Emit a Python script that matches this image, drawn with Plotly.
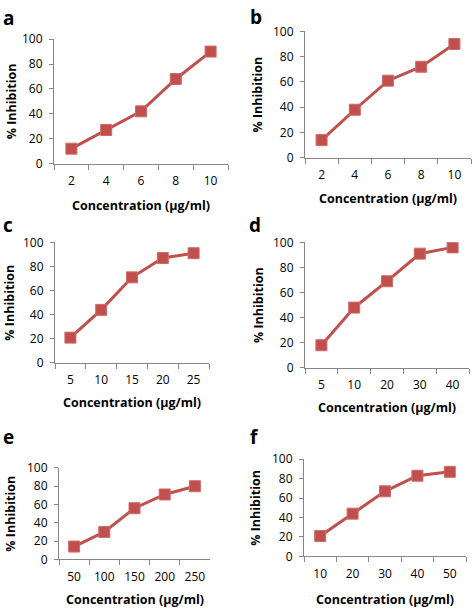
import plotly.graph_objects as go

W, H = 473, 615

# Data
conc_a = ["2", "4", "6", "8", "10"]
inh_a = [12, 27, 42, 68, 90]
conc_b = ["2", "4", "6", "8", "10"]
inh_b = [14, 38, 61, 72, 90]
conc_c = ["5", "10", "15", "20", "25"]
inh_c = [21, 44, 71, 87, 91]
conc_d = ["5", "10", "20", "30", "40"]
inh_d = [18, 48, 69, 91, 96]
conc_e = ["50", "100", "150", "200", "250"]
inh_e = [14, 30, 56, 71, 80]
conc_f = ["10", "20", "30", "40", "50"]
inh_f = [21, 44, 67, 83, 87]

panel_letters = ["a", "b", "c", "d", "e", "f"]
x_title = "Concentration (µg/ml)"
y_title = "% Inhibition"

series = [(conc_a, inh_a), (conc_b, inh_b), (conc_c, inh_c),
          (conc_d, inh_d), (conc_e, inh_e), (conc_f, inh_f)]

boxes = [(54, 228, 31, 159), (305, 471, 23, 153),
         (55, 209, 240, 364), (305, 469, 240, 369),
         (59, 210, 472, 566), (304, 466, 463, 563)]
letter_pos = [(8, 9), (256, 8), (8, 222), (255, 222), (8, 440), (254, 440)]
ytitle_x = [11, 258, 10, 258, 11, 256]
xtitle_y = [202, 195, 405, 410, 607, 607]

RED = "#C0504D"
AXIS = "#868686"
FONT = "Open Sans"

fig = go.Figure()
annotations = []
for i, ((xs, ys), (x0, x1, yt, yb)) in enumerate(zip(series, boxes)):
    n = "" if i == 0 else str(i + 1)
    fig.add_trace(go.Scatter(
        x=xs, y=ys, mode="lines+markers",
        xaxis="x" + n, yaxis="y" + n,
        line=dict(color=RED, width=3),
        marker=dict(symbol="square", size=11, color=RED,
                    line=dict(color="#D06A67", width=1)),
        showlegend=False, hoverinfo="x+y"))
    fig.layout["xaxis" + n] = dict(
        domain=[x0 / W, x1 / W], anchor="y" + n, type="category",
        range=[-0.5, 4.5], tickson="boundaries", ticks="outside",
        ticklen=5, tickcolor=AXIS, showline=True, linecolor=AXIS,
        linewidth=1, showgrid=False, zeroline=False, tickangle=0,
        ticklabelstandoff=6,
        tickfont=dict(family=FONT, size=12, color="black"), fixedrange=True)
    fig.layout["yaxis" + n] = dict(
        domain=[1 - yb / H, 1 - yt / H], anchor="x" + n,
        range=[0, 100], dtick=20, ticks="outside", ticklen=4,
        tickcolor=AXIS, showline=True, linecolor=AXIS, linewidth=1,
        showgrid=False, zeroline=False, ticklabelstandoff=4,
        tickfont=dict(family=FONT, size=12, color="black"), fixedrange=True)
    lx, ly = letter_pos[i]
    annotations.append(dict(text="<b>%s</b>" % panel_letters[i], x=lx / W,
                            y=1 - ly / H, xref="paper", yref="paper",
                            showarrow=False, xanchor="center", yanchor="middle",
                            font=dict(family=FONT, size=19, color="black")))
    annotations.append(dict(text="<b>%s</b>" % y_title, x=ytitle_x[i] / W,
                            y=1 - (yt + yb) / 2 / H, xref="paper", yref="paper",
                            showarrow=False, textangle=-90, xanchor="center",
                            yanchor="middle",
                            font=dict(family=FONT, size=12.5, color="black")))
    annotations.append(dict(text="<b>%s</b>" % x_title, x=(x0 + x1) / 2 / W,
                            y=1 - xtitle_y[i] / H, xref="paper", yref="paper",
                            showarrow=False, xanchor="center", yanchor="middle",
                            font=dict(family=FONT, size=12.5, color="black")))

fig.update_layout(width=W, height=H, margin=dict(l=0, r=0, t=0, b=0),
                  paper_bgcolor="white", plot_bgcolor="white",
                  annotations=annotations)

pin = ("var gd=document.getElementById('{plot_id}');"
       "document.body.style.margin='0';"
       "gd.style.position='absolute';gd.style.left='0px';gd.style.top='0px';")
fig.write_html("out.html", config={"displayModeBar": False}, post_script=pin)
